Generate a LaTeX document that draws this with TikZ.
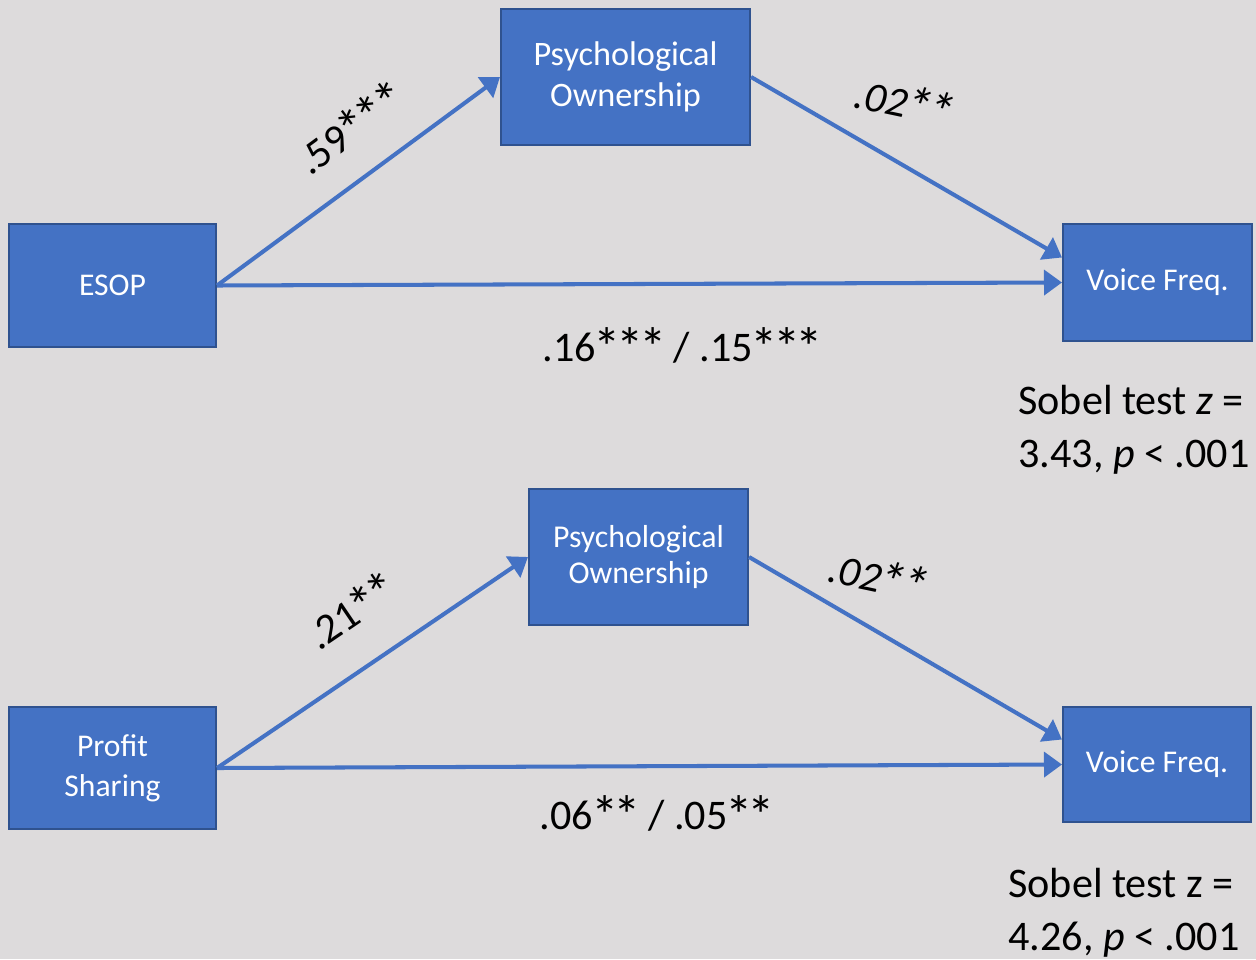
\documentclass[tikz,border=0pt]{standalone}
\usepackage{fontspec}
\usepackage{graphicx}
\usepackage{calc}
\setmainfont{Carlito}
\usetikzlibrary{arrows.meta,positioning}
\definecolor{boxblue}{RGB}{68,114,196}
\definecolor{boxedge}{RGB}{47,82,143}
\definecolor{bggray}{RGB}{221,219,220}
\newcommand{\sig}{\makebox[\widthof{*}+0.04em]{\raisebox{-0.12em}{\scalebox{1.3}{*}}}}

\begin{document}
\begin{tikzpicture}[x=0.02cm, y=-0.02cm,
  var/.style={draw=boxedge, line width=1.2pt, fill=boxblue, text=white,
              align=center, inner sep=0pt, font=\fontsize{18}{23}\selectfont},
  link/.style={-{Triangle[length=0.36cm,width=0.5cm]}, line width=2.3pt, draw=boxblue},
  coef/.style={font=\fontsize{24}{29}\selectfont, inner sep=0pt},
  note/.style={font=\fontsize{24}{30}\selectfont, inner sep=0pt, align=left, anchor=west}]

  % background and page size
  \fill[bggray] (0,0) rectangle (1256,959);

  % upper model
  \node[var, minimum width=4.14cm, minimum height=2.46cm] (esop) at (112.5,285.5) {ESOP};
  \node[var, minimum width=4.98cm, minimum height=2.72cm,
        font=\fontsize{19.5}{23.3}\selectfont] (own1) at (625.5,77)
        {Psychological\\Ownership};
  \node[var, minimum width=3.78cm, minimum height=2.34cm] (voice1) at (1157.5,282.5)
        {Voice Freq.};

  \draw[link] (esop.east) -- node[coef, pos=0.57, sloped, above=0.5cm] {.59\sig\sig\sig} (own1.west);
  \draw[link] (own1.east) -- node[coef, pos=0.49, yshift=1.24cm, rotate=-12]
        {\itshape .02\sig\sig} ([yshift=0.5cm]voice1.west);
  \draw[link] (esop.east) -- node[coef, pos=0.55, yshift=-1.26cm]
        {.16\sig\sig\sig{} / .15\sig\sig\sig} (voice1.west);

  \node[note] (sobel1) at (1018,430) {Sobel test \textit{z} =\\3.43, \textit{p} < .001};

  % lower model
  \node[var, minimum width=4.14cm, minimum height=2.44cm] (profit) at (112.5,768)
        {Profit\\Sharing};
  \node[var, minimum width=4.38cm, minimum height=2.72cm,
        font=\fontsize{18.1}{21}\selectfont] (own2) at (638.5,557)
        {Psychological\\Ownership};
  \node[var, minimum width=3.76cm, minimum height=2.3cm] (voice2) at (1157,764.5)
        {Voice Freq.};

  \draw[link] (profit.east) -- node[coef, pos=0.53, sloped, above=0.64cm] {.21\sig\sig} (own2.west);
  \draw[link] (own2.east) -- node[coef, pos=0.41, yshift=1.08cm, rotate=-12]
        {\itshape .02\sig\sig} ([yshift=0.5cm]voice2.west);
  \draw[link] (profit.east) -- node[coef, pos=0.52, yshift=-0.98cm]
        {.06\sig\sig{} / .05\sig\sig} (voice2.west);

  \node[note] (sobel2) at (1008,913) {Sobel test z =\\4.26, \textit{p} < .001};

\end{tikzpicture}
\end{document}
